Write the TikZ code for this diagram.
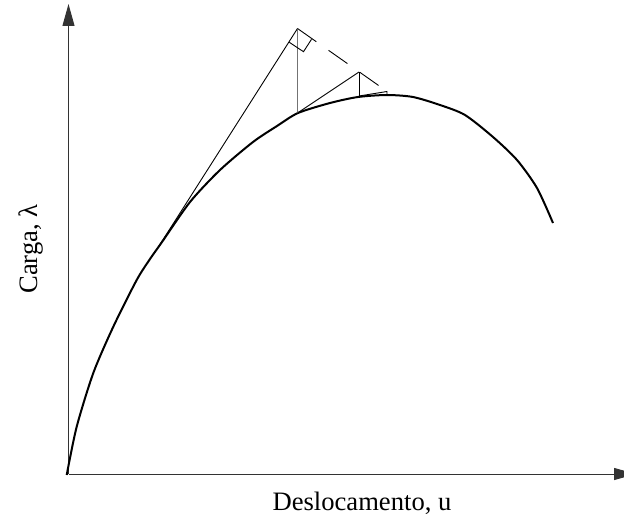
\documentclass[tikz,border=0pt]{standalone}
\usepackage{fontspec}
\setmainfont{Liberation Serif}
\usetikzlibrary{arrows.meta}
\begin{document}
\begin{tikzpicture}[x=1pt,y=-1pt,
  axisline/.style={line width=1pt, draw=black!80, -{Triangle[length=22pt,width=12pt]}},
  thinline/.style={line width=0.9pt, draw=black},
  grayline/.style={line width=1.3pt, draw=black!55},
  dashline/.style={line width=0.9pt, draw=black, dash pattern=on 23pt off 15pt},
  curveline/.style={line width=2pt, draw=black, line join=round},
  lbl/.style={font=\fontsize{26.6}{30}\selectfont, inner sep=0pt}]
\useasboundingbox (0,0) rectangle (624,519);
% axes
\coordinate (O) at (68.5,474);
\coordinate (ytip) at (68.5,4);
\coordinate (xtip) at (636,474);
\draw[axisline] (O) -- (ytip);
\draw[axisline] (O) -- (xtip);
% equilibrium curve
\draw[curveline] plot[smooth, tension=0.45] coordinates {
 (66.7,475) (76.7,426.7) (93.3,373) (113.3,326.7) (136.7,280) (150,259)
 (162,242) (190,202) (220,170) (253,142) (277,126) (298,113) (330,103)
 (358,97) (387,95) (413,97) (440,105) (465,115) (493,137) (517,160)
 (537,188) (553,223)};
% iteration points
\coordinate (T0) at (159,246);
\coordinate (P1) at (297.5,28.5);
\coordinate (C1) at (297.5,113);
\coordinate (P2) at (359,72);
\coordinate (C2) at (359,96);
\coordinate (P3) at (387,91.5);
\coordinate (C3) at (387,95);
\coordinate (E) at (390,93.5);
% right angle marker corners
\coordinate (R1) at (289.3,42.3);
\coordinate (R2) at (303.5,51.7);
\coordinate (R3) at (311.5,39.3);
% predictor / corrector lines
\draw[thinline] (T0) -- (P1);
\draw[grayline] (P1) -- (C1);
\draw[dashline] (P1) -- (E);
\draw[thinline] (R1) -- (R2) -- (R3);
\draw[thinline] (C1) -- (P2);
\draw[thinline] (P2) -- (C2);
\draw[thinline] (C2) -- (P3) -- (C3);
% labels
\node[lbl, anchor=base] (xl) at (362,510) {Deslocamento, u};
\node[lbl, anchor=base, rotate=90] (yl) at (37,249) {Carga, λ};
\end{tikzpicture}
\end{document}
